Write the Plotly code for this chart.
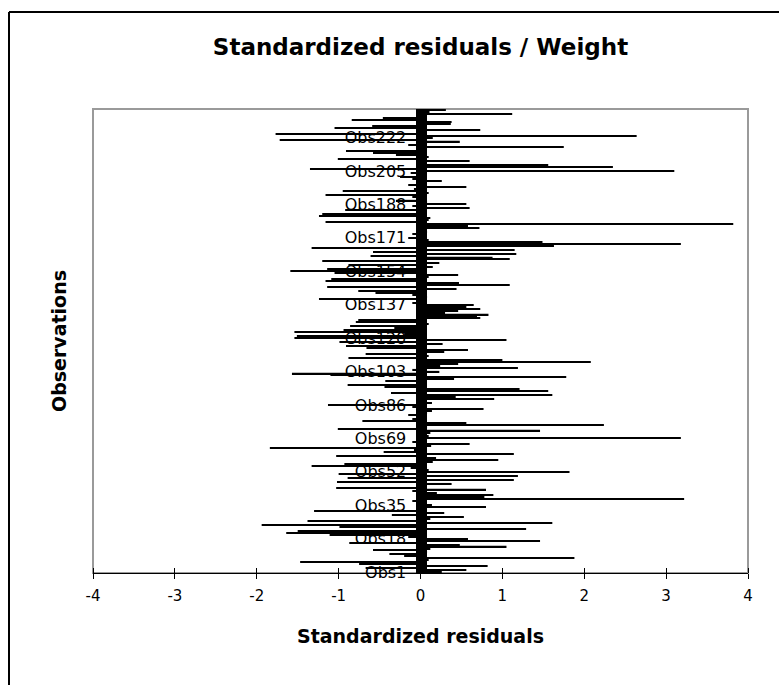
import plotly.graph_objects as go

# Standardized residuals, Obs1 ... Obs236
residuals = [
    0.26, 0.56, -0.67, 0.82, -0.75, -1.47, 0.10, 1.88, -0.20, -0.38,
    0.08, -0.58, 0.12, 1.05, 0.48, -0.87, 1.46, 0.58, -0.15, -1.11,
    -1.64, -1.50, 1.29, -0.99, -1.94, 1.61, -1.38, 0.12, 0.53, -0.35,
    0.29, -1.30, 0.05, 0.80, 0.14, 0.05, -0.10, 3.22, 0.78, 0.89,
    0.20, -0.10, 0.80, -1.03, 0.05, 0.38, -1.02, 1.14, -0.89, 1.19,
    -1.00, 1.82, 0.10, -0.12, -1.33, -0.93, 0.15, 0.95, 0.19, -1.03,
    1.14, -0.45, -0.08, -1.84, 0.13, 0.60, -0.10, 0.05, 3.18, 0.10,
    -0.05, 0.12, 1.46, -1.01, 0.08, 2.24, 0.56, -0.71, -0.10, 0.05,
    -0.15, 0.08, 0.14, 0.77, -0.10, -1.13, 0.14, -0.05, 0.90, 0.43,
    1.61, -0.36, 1.56, 1.21, -0.44, -0.89, 0.05, -0.43, 0.41, 1.78,
    -1.10, -1.57, 0.23, -0.10, 1.19, 0.24, 0.46, 2.08, 1.00, -0.88,
    0.10, -0.67, 0.29, 0.58, -0.66, -0.91, 0.27, -0.99, 1.05, -1.54,
    -1.51, -0.20, -1.54, -0.94, -0.32, -0.86, 0.10, -0.79, -0.76, 0.73,
    0.69, 0.83, 0.30, 0.46, 0.73, 0.56, 0.65, -0.10, 0.05, -1.24,
    0.08, -0.10, -0.55, -0.76, 0.44, -1.14, 1.09, 0.47, -1.16, -1.09,
    0.10, 0.46, -1.05, -1.59, -1.14, 0.15, -0.88, 0.23, -1.20, 1.09,
    0.88, -0.61, 1.17, -0.58, 1.15, -1.33, 1.63, 3.18, 1.49, 0.10,
    -0.15, 0.05, -0.10, 0.08, -0.05, 0.72, 0.58, 3.82, -1.16, 0.10,
    0.12, -1.24, -1.20, 0.05, -0.92, 0.60, -0.10, 0.56, 0.08, -0.30,
    0.05, -0.10, -1.16, 0.10, -0.95, -0.08, 0.56, -0.15, 0.05, 0.26,
    -0.10, -0.25, 0.05, -0.12, 3.10, -1.35, 2.35, 1.56, -0.05, 0.60,
    -1.01, 0.10, -0.30, -0.58, -0.91, 0.05, 1.75, -0.15, 0.08, 0.48,
    -1.72, 0.15, 2.64, -1.77, 0.05, 0.73, -1.05, -0.59, 0.37, 0.38,
    -0.84, -0.46, 0.05, 1.12, 0.11, 0.31,
]
observations = list(range(1, len(residuals) + 1))
obs_names = ["Obs%d" % i for i in observations]

tick_obs = [1, 18, 35, 52, 69, 86, 103, 120, 137, 154, 171, 188, 205, 222]
tick_labels = ["Obs1", "Obs18", "Obs35", "Obs52", "Obs69", "Obs86", "Obs103",
               "Obs120", "Obs137", "Obs154", "Obs171", "Obs188", "Obs205", "Obs222"]
x_ticks = [-4, -3, -2, -1, 0, 1, 2, 3, 4]
x_tick_labels = ["-4", "-3", "-2", "-1", "0", "1", "2", "3", "4"]
x_range = [-4, 4]

title_text = "Standardized residuals / Weight"
x_title = "Standardized residuals"
y_title = "Observations"

N = len(residuals)
y_range = [0.5, N + 0.5]
FONT = "DejaVu Sans"

W, H = 779, 685
L, R, T, B = 93, 748, 109, 573     # plot area in page px
PW, PH = R - L, B - T

fig = go.Figure()
fig.add_trace(go.Bar(
    x=residuals, y=observations, orientation="h",
    width=0.6,
    marker=dict(color="black", line=dict(width=0)),
    customdata=obs_names,
    hovertemplate="%{customdata}: %{x}<extra></extra>",
    showlegend=False,
))
# empty helper traces so the overlay axes (cross ticks, axis title) are drawn
fig.add_trace(go.Scatter(x=[None], y=[None], xaxis="x2", yaxis="y2",
                         mode="markers", showlegend=False, hoverinfo="skip"))
fig.add_trace(go.Scatter(x=[None], y=[None], xaxis="x", yaxis="y3",
                         mode="markers", showlegend=False, hoverinfo="skip"))

cross_minor = dict(tickmode="array", tickvals=observations, ticks="outside",
                   ticklen=5, tickwidth=2, tickcolor="black", showgrid=False)

fx0 = (9 - L) / PW          # chart-area border, left edge
fy1 = (B - 12) / PH         # chart-area border, top edge

fig.update_layout(
    width=W, height=H,
    margin=dict(l=L, r=W - R, t=T, b=H - B),
    paper_bgcolor="white", plot_bgcolor="white",
    font=dict(family=FONT, color="black", size=15),
    bargap=0.4,
    title=dict(text="<b>%s</b>" % title_text, font=dict(size=23, family=FONT),
               x=0.5, xref="paper", xanchor="center",
               y=1 - 47 / H, yref="container", yanchor="middle"),
    xaxis=dict(range=x_range, tickmode="array", tickvals=x_ticks,
               ticktext=x_tick_labels,
               ticks="outside", ticklen=5, tickwidth=1, tickcolor="black",
               ticklabelstandoff=4,
               showline=True, linecolor="black", linewidth=1,
               showgrid=False, zeroline=False,
               tickfont=dict(size=15),
               title=dict(text="<b>%s</b>" % x_title, font=dict(size=19),
                          standoff=25)),
    xaxis2=dict(overlaying="x", side="top", anchor="free", position=0,
                range=x_range, tickmode="array", tickvals=x_ticks,
                ticks="outside", ticklen=5, tickwidth=1, tickcolor="black",
                showticklabels=False, showline=False, showgrid=False,
                zeroline=False),
    yaxis=dict(range=y_range, anchor="free", position=0.5, side="left",
               tickmode="array", tickvals=tick_obs, ticktext=tick_labels,
               ticks="outside", ticklen=5, tickwidth=2, tickcolor="black",
               minor=cross_minor, ticklabelstandoff=6,
               showline=True, linecolor="black", linewidth=1,
               showgrid=False, zeroline=False, layer="below traces",
               tickfont=dict(size=16)),
    yaxis2=dict(overlaying="y", anchor="free", position=0.5, side="right",
                range=y_range, tickmode="array", tickvals=tick_obs,
                ticks="outside", ticklen=5, tickwidth=2, tickcolor="black",
                minor=cross_minor, showticklabels=False, showline=False,
                showgrid=False, zeroline=False),
    yaxis3=dict(overlaying="y", anchor="free", position=0, side="left",
                range=y_range, showticklabels=False, ticks="",
                showline=False, showgrid=False, zeroline=False,
                title=dict(text="<b>%s</b>" % y_title, font=dict(size=19),
                           standoff=20)),
    shapes=[
        dict(type="rect", xref="paper", yref="paper", x0=0, y0=0, x1=1, y1=1,
             line=dict(color="#9a9a9a", width=2), layer="below"),
        dict(type="line", xref="paper", yref="paper",
             x0=fx0, y0=fy1, x1=(W + 20 - L) / PW, y1=fy1,
             line=dict(color="black", width=2), layer="below"),
        dict(type="line", xref="paper", yref="paper",
             x0=fx0, y0=fy1, x1=fx0, y1=(B - H - 20) / PH,
             line=dict(color="black", width=2), layer="below"),
    ],
)

fig.write_html(
    "out.html",
    config={"displayModeBar": False},
    post_script="document.body.style.margin='0';"
                "document.documentElement.style.overflow='hidden';"
                "document.body.style.overflow='hidden';",
)
